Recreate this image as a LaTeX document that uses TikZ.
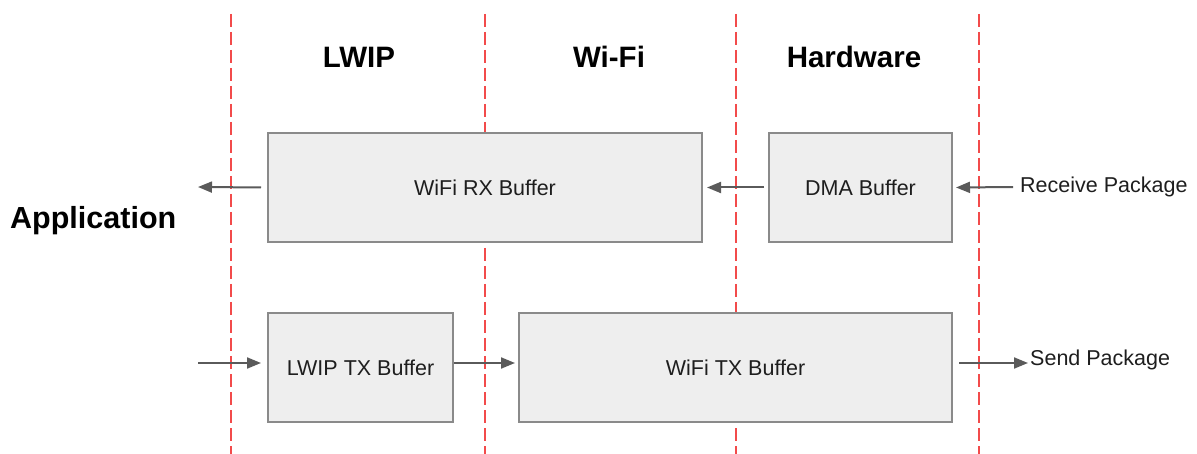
\documentclass[tikz,border=0pt]{standalone}
\usepackage{fontspec}
\setmainfont{Liberation Sans}
\usetikzlibrary{arrows.meta,positioning}
\definecolor{Lane}{HTML}{F24B4B}
\definecolor{BoxFill}{HTML}{EEEEEE}
\definecolor{BoxLine}{HTML}{8A8A8A}
\definecolor{Arrow}{HTML}{5A5A5A}
\definecolor{Ink}{HTML}{1E1E1E}
\tikzset{
  buffer/.style={
    draw=BoxLine, line width=2pt, fill=BoxFill, text=Ink,
    minimum height=109pt, inner sep=0pt,
    font=\fontsize{21.5}{24}\selectfont
  },
  layer/.style={text=black, font=\fontsize{29.5}{32}\selectfont\bfseries},
  label/.style={text=Ink, inner sep=2pt, font=\fontsize{21.5}{24}\selectfont},
  flow/.style={-{Triangle[length=14pt,width=11pt]}, line width=2pt, draw=Arrow},
  lane/.style={draw=Lane, line width=2pt, dash pattern=on 13pt off 5pt}
}

\begin{document}
\begin{tikzpicture}[x=1pt,y=-1pt]
        \useasboundingbox (0,0) rectangle (1197,454);
        % swim lanes
        \foreach \lx in {231,485,736,979}
          \draw[lane] (\lx,14) -- (\lx,454);
        \node[layer] (lwip) at (359,57) {LWIP};
        \node[layer] (wifi) at (609,57) {Wi-Fi};
        \node[layer] (hw) at (854,57) {Hardware};
        \node[layer,anchor=west,inner sep=0pt,font=\fontsize{30.5}{33}\selectfont\bfseries] (app) at (10,221) {Application};
        % receive path
        \node[buffer,minimum width=434pt] (rxbuf) at (485,187.5) {WiFi RX Buffer};
        \node[buffer,minimum width=183pt] (dmabuf) at (860.5,187.5) {DMA Buffer};
        \node[label,anchor=west] (recv) at (1018,187) {Receive Package};
        \coordinate (appout) at (198,187);
        % send path
        \node[buffer,minimum width=185pt] (lwiptx) at (360.5,367.5) {LWIP TX Buffer};
        \node[buffer,minimum width=433pt] (wifitx) at (735.5,367.5) {WiFi TX Buffer};
        \node[label,anchor=west] (send) at (1028,360) {Send Package};
        \coordinate (appin) at (198,363);
        \draw[flow,shorten <=6pt] (rxbuf.west) -- (appout);
        \draw[flow,shorten <=4pt,shorten >=4pt] (dmabuf.west) -- (rxbuf.east);
        \draw[flow,shorten <=5pt,shorten >=3pt] (recv.west) -- (dmabuf.east);
        \draw[flow,shorten >=6pt] (appin) -- (appin -| lwiptx.west);
        \draw[flow,shorten >=3pt] (lwiptx.east |- appin) -- (wifitx.west |- appin);
        \draw[flow,shorten <=6pt] (wifitx.east |- appin) -- (send.west |- appin);
      \end{tikzpicture}
\end{document}
